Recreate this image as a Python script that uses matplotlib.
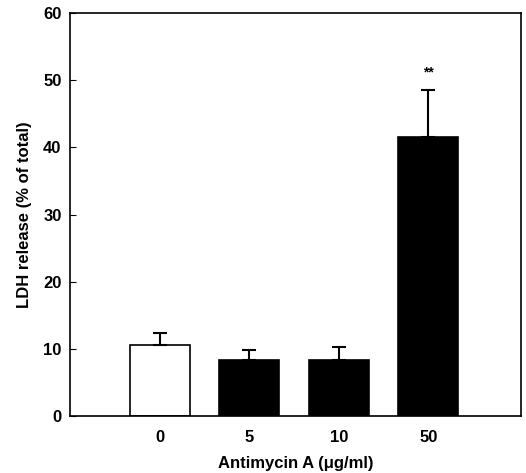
import matplotlib.pyplot as plt
import numpy as np

plt.rcParams['font.family'] = ['Liberation Sans', 'DejaVu Sans']

doses = ["0", "5", "10", "50"]
ldh = [10.6, 8.4, 8.3, 41.5]
sem = [1.7, 1.4, 1.9, 7.1]
colors = ["white", "black", "black", "black"]

fig = plt.figure(figsize=(5.26, 4.73), dpi=100)
ax = fig.add_axes([0.133, 0.1205, 0.857, 0.852])

x = np.arange(len(doses))
ax.bar(x, ldh, width=0.67, color=colors, edgecolor="black", linewidth=1.2,
       yerr=[np.zeros(len(sem)), sem], capsize=5,
       error_kw=dict(ecolor="black", elinewidth=1.5, capthick=1.5))
ax.text(x[3], ldh[3] + sem[3] + 2.5, "**", ha="center", va="center",
        fontsize=10, fontweight="bold")

ax.set_xlim(-1.0, 4.03)
ax.set_ylim(0, 60)
ax.set_yticks(range(0, 61, 10))
ax.set_xticks(x)
ax.set_xticklabels(doses)
ax.tick_params(axis="y", direction="in", length=4, labelsize=12, pad=6)
ax.tick_params(axis="x", length=0, labelsize=12, pad=10)
for lab in ax.get_xticklabels() + ax.get_yticklabels():
    lab.set_fontweight("bold")
for s in ax.spines.values():
    s.set_linewidth(1.2)

ax.set_ylabel("LDH release (% of total)", fontsize=12, fontweight="bold", labelpad=8)
ax.set_xlabel("Antimycin A (\u03bcg/ml)", fontsize=12, fontweight="bold", labelpad=8)

plt.savefig("out.png", dpi=100)
